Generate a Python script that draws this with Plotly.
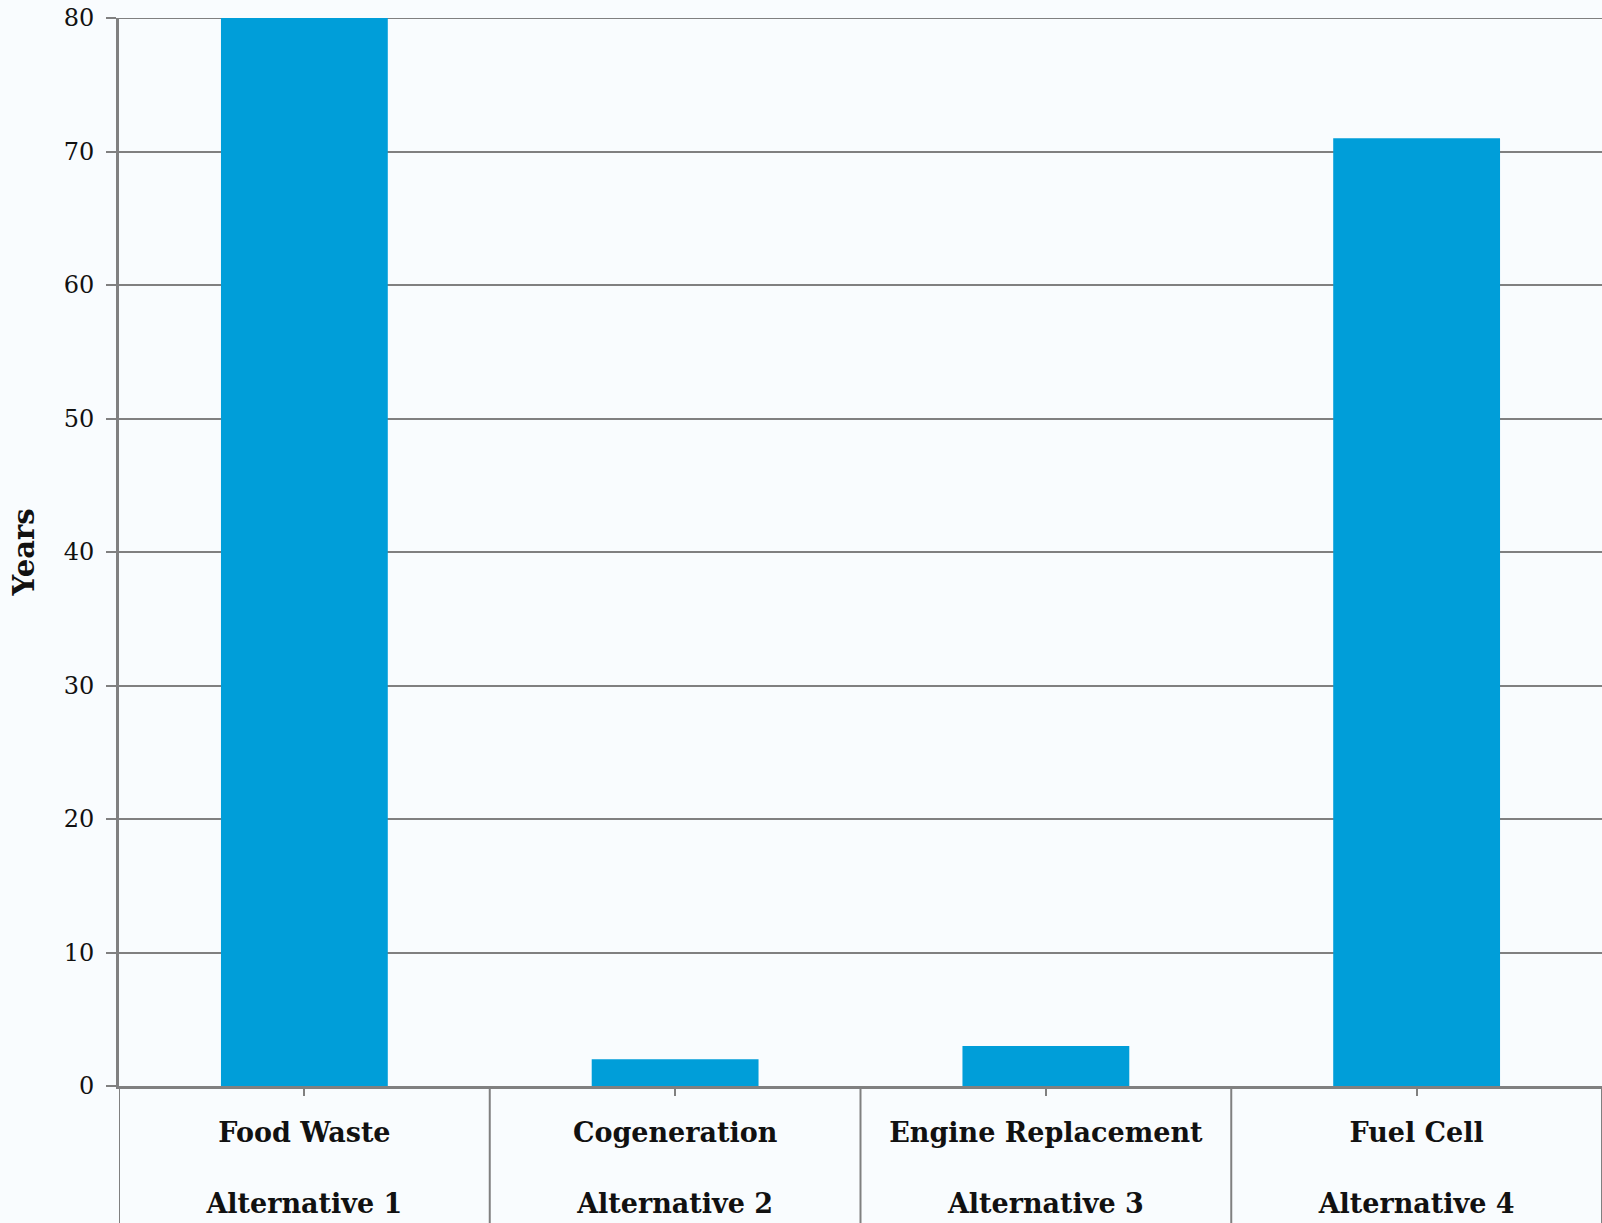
import plotly.graph_objects as go

categories = ["Food Waste", "Cogeneration", "Engine Replacement", "Fuel Cell"]
alternatives = ["Alternative 1", "Alternative 2", "Alternative 3", "Alternative 4"]
years = [80, 2, 3, 71]
y_ticks = [0, 10, 20, 30, 40, 50, 60, 70, 80]

BG = "#F9FCFE"
BAR = "#009ED9"
GRID = "#808080"
FONT = "DejaVu Serif"

ticktext = [f"<b>{c}</b><br><br><b>{a}</b>" for c, a in zip(categories, alternatives)]

fig = go.Figure()
fig.add_trace(go.Bar(
    x=list(range(len(categories))),
    y=years,
    marker=dict(color=BAR, line=dict(width=0)),
    width=0.45,
    showlegend=False,
    hoverinfo="skip",
))

# dividers between category groups, extending through the label area
for i in range(len(categories) + 1):
    fig.add_shape(type="line", xref="x", yref="paper",
                  x0=i - 0.5, x1=i - 0.5, y0=0, y1=-0.14,
                  line=dict(color=GRID, width=2), layer="above")

# top gridline at the axis maximum
fig.add_shape(type="line", xref="paper", yref="y",
              x0=0, x1=1, y0=y_ticks[-1], y1=y_ticks[-1],
              line=dict(color=GRID, width=2), layer="below")

fig.update_layout(
    width=1602, height=1223,
    margin=dict(l=119, r=0, t=18, b=137),
    paper_bgcolor=BG, plot_bgcolor=BG,
    font=dict(family=FONT, color="#111111"),
    bargap=0.55,
)
fig.update_xaxes(
    range=[-0.5, len(categories) - 0.5],
    tickmode="array",
    tickvals=list(range(len(categories))),
    ticktext=ticktext,
    ticks="outside", ticklen=7, tickwidth=2, tickcolor=GRID,
    showline=True, linecolor=GRID, linewidth=3,
    showgrid=False, zeroline=False,
    tickfont=dict(family=FONT, size=27, color="#111111"),
    ticklabelstandoff=14,
)
fig.update_yaxes(
    range=[0, 80],
    tickmode="array", tickvals=y_ticks,
    ticks="outside", ticklen=10, tickwidth=2, tickcolor=GRID,
    showline=True, linecolor=GRID, linewidth=3,
    showgrid=True, gridcolor=GRID, gridwidth=2,
    zeroline=False,
    tickfont=dict(family=FONT, size=24, color="#111111"),
    ticklabelstandoff=7,
    title=dict(text="<b>Years</b>", font=dict(family=FONT, size=29, color="#111111"), standoff=21),
)

fig.write_html("out.html")
